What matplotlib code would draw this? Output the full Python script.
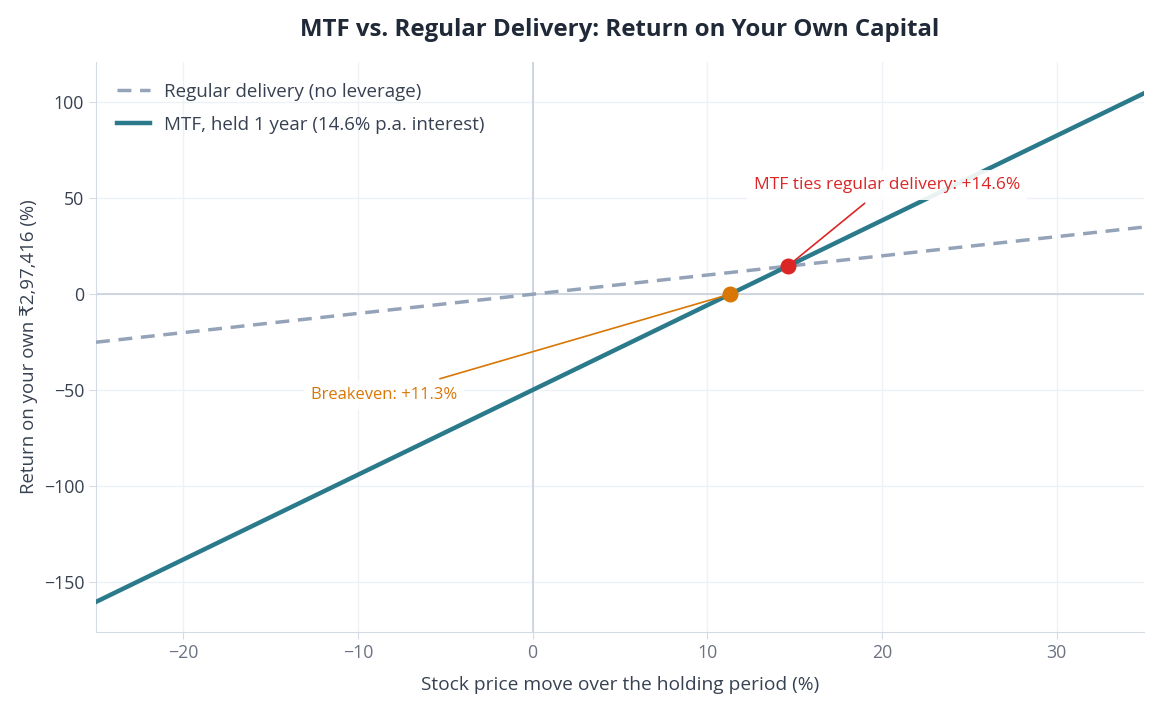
import matplotlib
matplotlib.use("Agg")
import matplotlib.pyplot as plt

plt.rcParams['font.family'] = ['Open Sans', 'DejaVu Sans']

# Data
price_move = [-25, 35]
regular_delivery = [-25, 35]
mtf_one_year = [-160.3, 104.7]
breakeven = (11.3, 0.0)
tie_point = (14.6, 14.6)

xticks = [-20, -10, 0, 10, 20, 30]
yticks = [-150, -100, -50, 0, 50, 100]

fig = plt.figure(figsize=(11.56, 7.15), dpi=100)
ax = fig.add_axes([96/1156, 1-632/715, (1144-96)/1156, (632-62)/715])

ax.set_xlim(-25, 35)
ax.set_ylim(-176, 121)
ax.set_xticks(xticks)
ax.set_yticks(yticks)
ax.grid(True, color='#eef1f6', linewidth=1)
ax.set_axisbelow(True)
for s in ['top', 'right']:
    ax.spines[s].set_visible(False)
for s in ['left', 'bottom']:
    ax.spines[s].set_color('#d5dbe5')
ax.axhline(0, color='#c8d0dc', linewidth=1.2, zorder=1)
ax.axvline(0, color='#c8d0dc', linewidth=1.2, zorder=1)

ax.plot(price_move, regular_delivery, color='#94a3b8', linestyle=(0, (4, 2.5)), linewidth=2.5,
        label='Regular delivery (no leverage)', zorder=3)
ax.plot(price_move, mtf_one_year, color='#2a7a8c', linewidth=3.2,
        label='MTF, held 1 year (14.6% p.a. interest)', zorder=4)

ax.scatter([breakeven[0]], [breakeven[1]], s=110, color='#d97706', zorder=6)
ax.scatter([tie_point[0]], [tie_point[1]], s=110, color='#dc2626', zorder=6)

ax.annotate('Breakeven: +11.3%', xy=breakeven, xytext=(-8.5, -52.5),
            color='#d97706', fontsize=12, ha='center', va='center',
            bbox=dict(boxstyle='square,pad=0.4', fc='white', ec='none', alpha=0.85),
            arrowprops=dict(arrowstyle='-', color='#d97706', lw=1.2, shrinkA=4, shrinkB=4), zorder=5)
ax.annotate('MTF ties regular delivery: +14.6%', xy=tie_point, xytext=(20.3, 57.0),
            color='#dc2626', fontsize=12.5, ha='center', va='center',
            bbox=dict(boxstyle='square,pad=0.4', fc='white', ec='none', alpha=0.9),
            arrowprops=dict(arrowstyle='-', color='#dc2626', lw=1.2, shrinkA=4, shrinkB=4), zorder=5)

ax.tick_params(axis='both', colors='#d5dbe5', length=5)
for lab in ax.get_xticklabels():
    lab.set_color('#6b7280'); lab.set_fontsize(12.8)
for lab in ax.get_yticklabels():
    lab.set_color('#374151'); lab.set_fontsize(12.8)

ax.set_xlabel('Stock price move over the holding period (%)', fontsize=13.8, color='#374151', labelpad=10)
ax.set_ylabel('Return on your own ₹2,97,416 (%)', fontsize=13.4, color='#374151', labelpad=4)

leg = ax.legend(loc='upper left', frameon=False, fontsize=13.5, labelcolor='#374151',
                handlelength=1.8, labelspacing=0.8, borderaxespad=0.7, handletextpad=0.7)

fig.text(620/1156, 1-30/715, 'MTF vs. Regular Delivery: Return on Your Own Capital',
         ha='center', va='center', fontsize=17.3, fontweight='bold', color='#1f2937')

fig.savefig('out.png', dpi=100, facecolor='white')
